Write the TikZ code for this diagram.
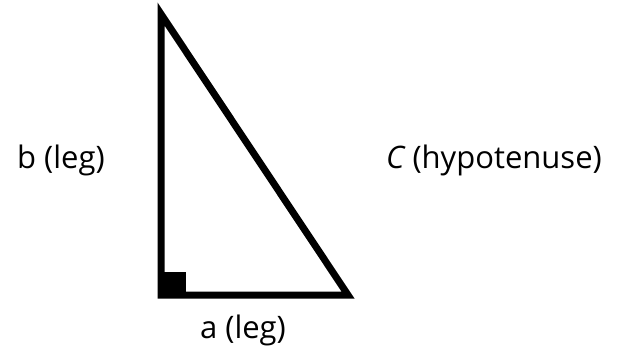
\documentclass[tikz,border=0pt]{standalone}
\usepackage{fontspec}
\setmainfont{Open Sans}
\usetikzlibrary{positioning}
\tikzset{
  % lati del triangolo
  lato/.style={line width=7pt,line join=miter,line cap=rect},
  etichetta/.style={font=\fontsize{31}{36}\selectfont,inner sep=0pt}
}

\begin{document}
\begin{tikzpicture}[x=1pt,y=-1pt]
    \useasboundingbox (0,0) rectangle (618,359);
    \coordinate (A) at (161,14);
    \coordinate (B) at (161,295);
    \coordinate (R) at (348,295);
    \draw[lato] (A)--(B)--(R)--cycle;
    % angolo retto
    \fill (B) rectangle (186,272);
    \node[etichetta] (b) at (61,160) {b (leg)};
    \node[etichetta] (c) at (494,160) {{\itshape C} (hypotenuse)};
    \node[etichetta] (a) at (243,330) {a (leg)};
  \end{tikzpicture}
\end{document}
